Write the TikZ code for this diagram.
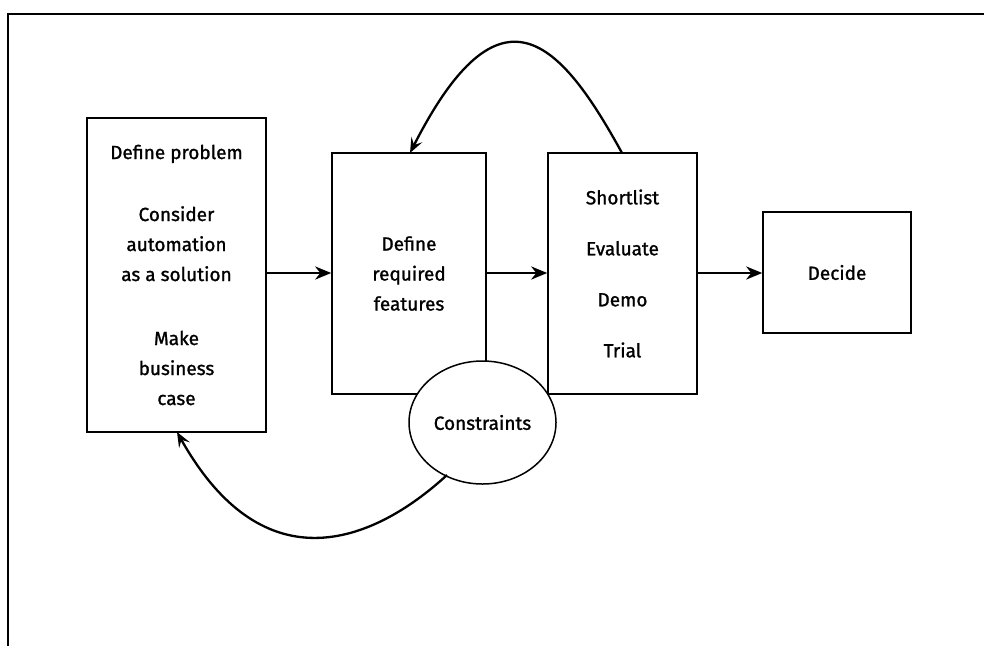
\documentclass[tikz,border=0pt]{standalone}
\usepackage{fontspec}
\setmainfont{Fira Sans}[FakeBold=1.2]
\usetikzlibrary{arrows.meta,shapes.geometric}
\begin{document}
\begin{tikzpicture}[x=1pt,y=-1pt,
  box/.style={draw, line width=1.5pt, fill=white, inner sep=0pt, align=center,
    font=\fontsize{19}{30}\selectfont},
  wide/.style={box, font=\fontsize{19}{51}\selectfont},
  flow/.style={line width=2.8pt, -{Stealth[length=16pt,width=13pt,inset=5pt]}},
  loop/.style={line width=2.3pt, -{Stealth[length=15pt,width=12pt,inset=6pt]}}]
\useasboundingbox (0,0) rectangle (984,646);

% page frame (top and left rules)
\draw[line width=1.8pt] (984,14) -- (8,14) -- (8,646);

% process steps
\node[box, minimum width=179pt, minimum height=314pt] (problem) at (176.5,275)
  {Define problem\\[32pt]Consider\\automation\\as a solution\\[34pt]Make\\business\\case};
\node[box, minimum width=154pt, minimum height=241pt] (features) at (409,273.5)
  {Define\\required\\features};
\node[wide, minimum width=149pt, minimum height=241pt] (select) at (622.5,273.5)
  {Shortlist\\Evaluate\\Demo\\Trial};
\node[box, minimum width=148pt, minimum height=121pt] (decide) at (837,272.5)
  {Decide};

% constraints bubble laid over the corner of the features box
\node[box, ellipse, minimum width=147pt, minimum height=123pt] (constraints) at (482.5,422.5)
  {Constraints};

% forward flow
\draw[flow] (problem.east |- 0,273) -- (features.west |- 0,273);
\draw[flow] (features.east |- 0,273) -- (select.west |- 0,273);
\draw[flow] (select.east |- 0,273) -- (decide.west |- 0,273);

% feedback loops
\coordinate (selTop) at (622,153);
\coordinate (featTop) at (410,153);
\draw[loop] (selTop) .. controls (560,40) and (500,-24) .. (featTop);

\coordinate (conOut) at (447,475);
\coordinate (probBot) at (177,432);
\draw[loop] (conOut) .. controls (384,533) and (269,596) .. (probBot);
\end{tikzpicture}
\end{document}
